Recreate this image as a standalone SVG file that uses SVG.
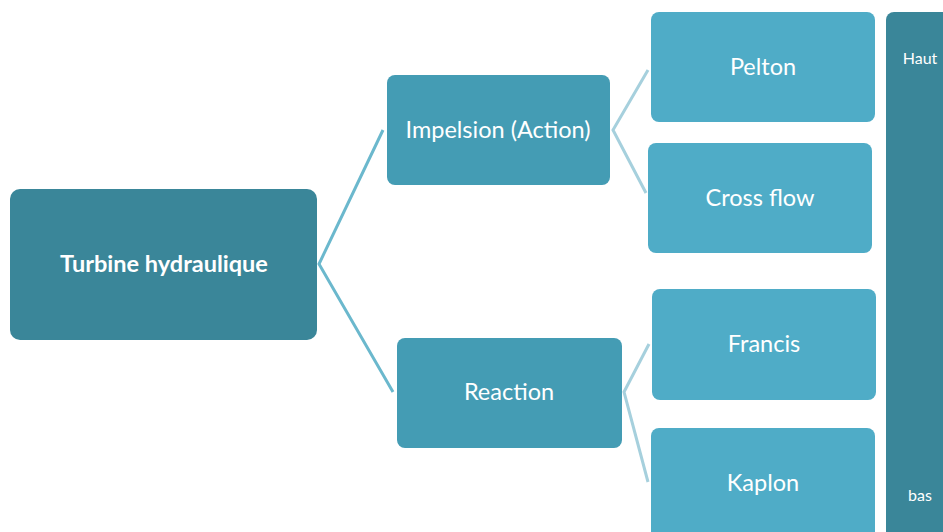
<svg xmlns="http://www.w3.org/2000/svg" width="943" height="532" viewBox="0 0 943 532">
<style>
.t{fill:#ffffff;font-family:Lato,"Open Sans","Liberation Sans",sans-serif;text-anchor:middle;dominant-baseline:central}
.m{font-size:23.5px}
.root{fill:#3A8699}
.l1{fill:#449CB4}
.l2{fill:#4FACC7}
.c1{fill:none;stroke:#6BB8CD;stroke-width:3}
.c2{fill:none;stroke:#A6D0DD;stroke-width:3}
</style>
<rect width="943" height="532" fill="#ffffff"/>
<g id="connectors">
<polyline class="c1" points="383,130 319,264 393,392"/>
<polyline class="c2" points="648,70 613,130 646,193"/>
<polyline class="c2" points="649,344 624,392 648,482"/>
</g>
<g id="bar">
<rect class="root" x="886" y="12" width="70" height="530" rx="8"/>
<text class="t" x="920" y="57" font-size="16">Haut</text>
<text class="t" x="920" y="494" font-size="16">bas</text>
</g>
<g id="root">
<rect class="root" x="10" y="189" width="307" height="151" rx="10"/>
<text class="t" x="164" y="263" font-size="23.5" font-weight="bold">Turbine hydraulique</text>
</g>
<g id="impelsion">
<rect class="l1" x="387" y="75" width="223" height="110" rx="8"/>
<text class="t m" x="498" y="129">Impelsion (Action)</text>
</g>
<g id="reaction">
<rect class="l1" x="397" y="338" width="225" height="110" rx="8"/>
<text class="t m" x="509" y="391">Reaction</text>
</g>
<g id="pelton">
<rect class="l2" x="651" y="12" width="224" height="110" rx="8"/>
<text class="t m" x="763" y="66">Pelton</text>
</g>
<g id="crossflow">
<rect class="l2" x="648" y="143" width="224" height="110" rx="8"/>
<text class="t m" x="760" y="197">Cross flow</text>
</g>
<g id="francis">
<rect class="l2" x="652" y="289" width="224" height="111" rx="8"/>
<text class="t m" x="764" y="343">Francis</text>
</g>
<g id="kaplon">
<rect class="l2" x="651" y="428" width="224" height="115" rx="8"/>
<text class="t m" x="763" y="482">Kaplon</text>
</g>
</svg>
